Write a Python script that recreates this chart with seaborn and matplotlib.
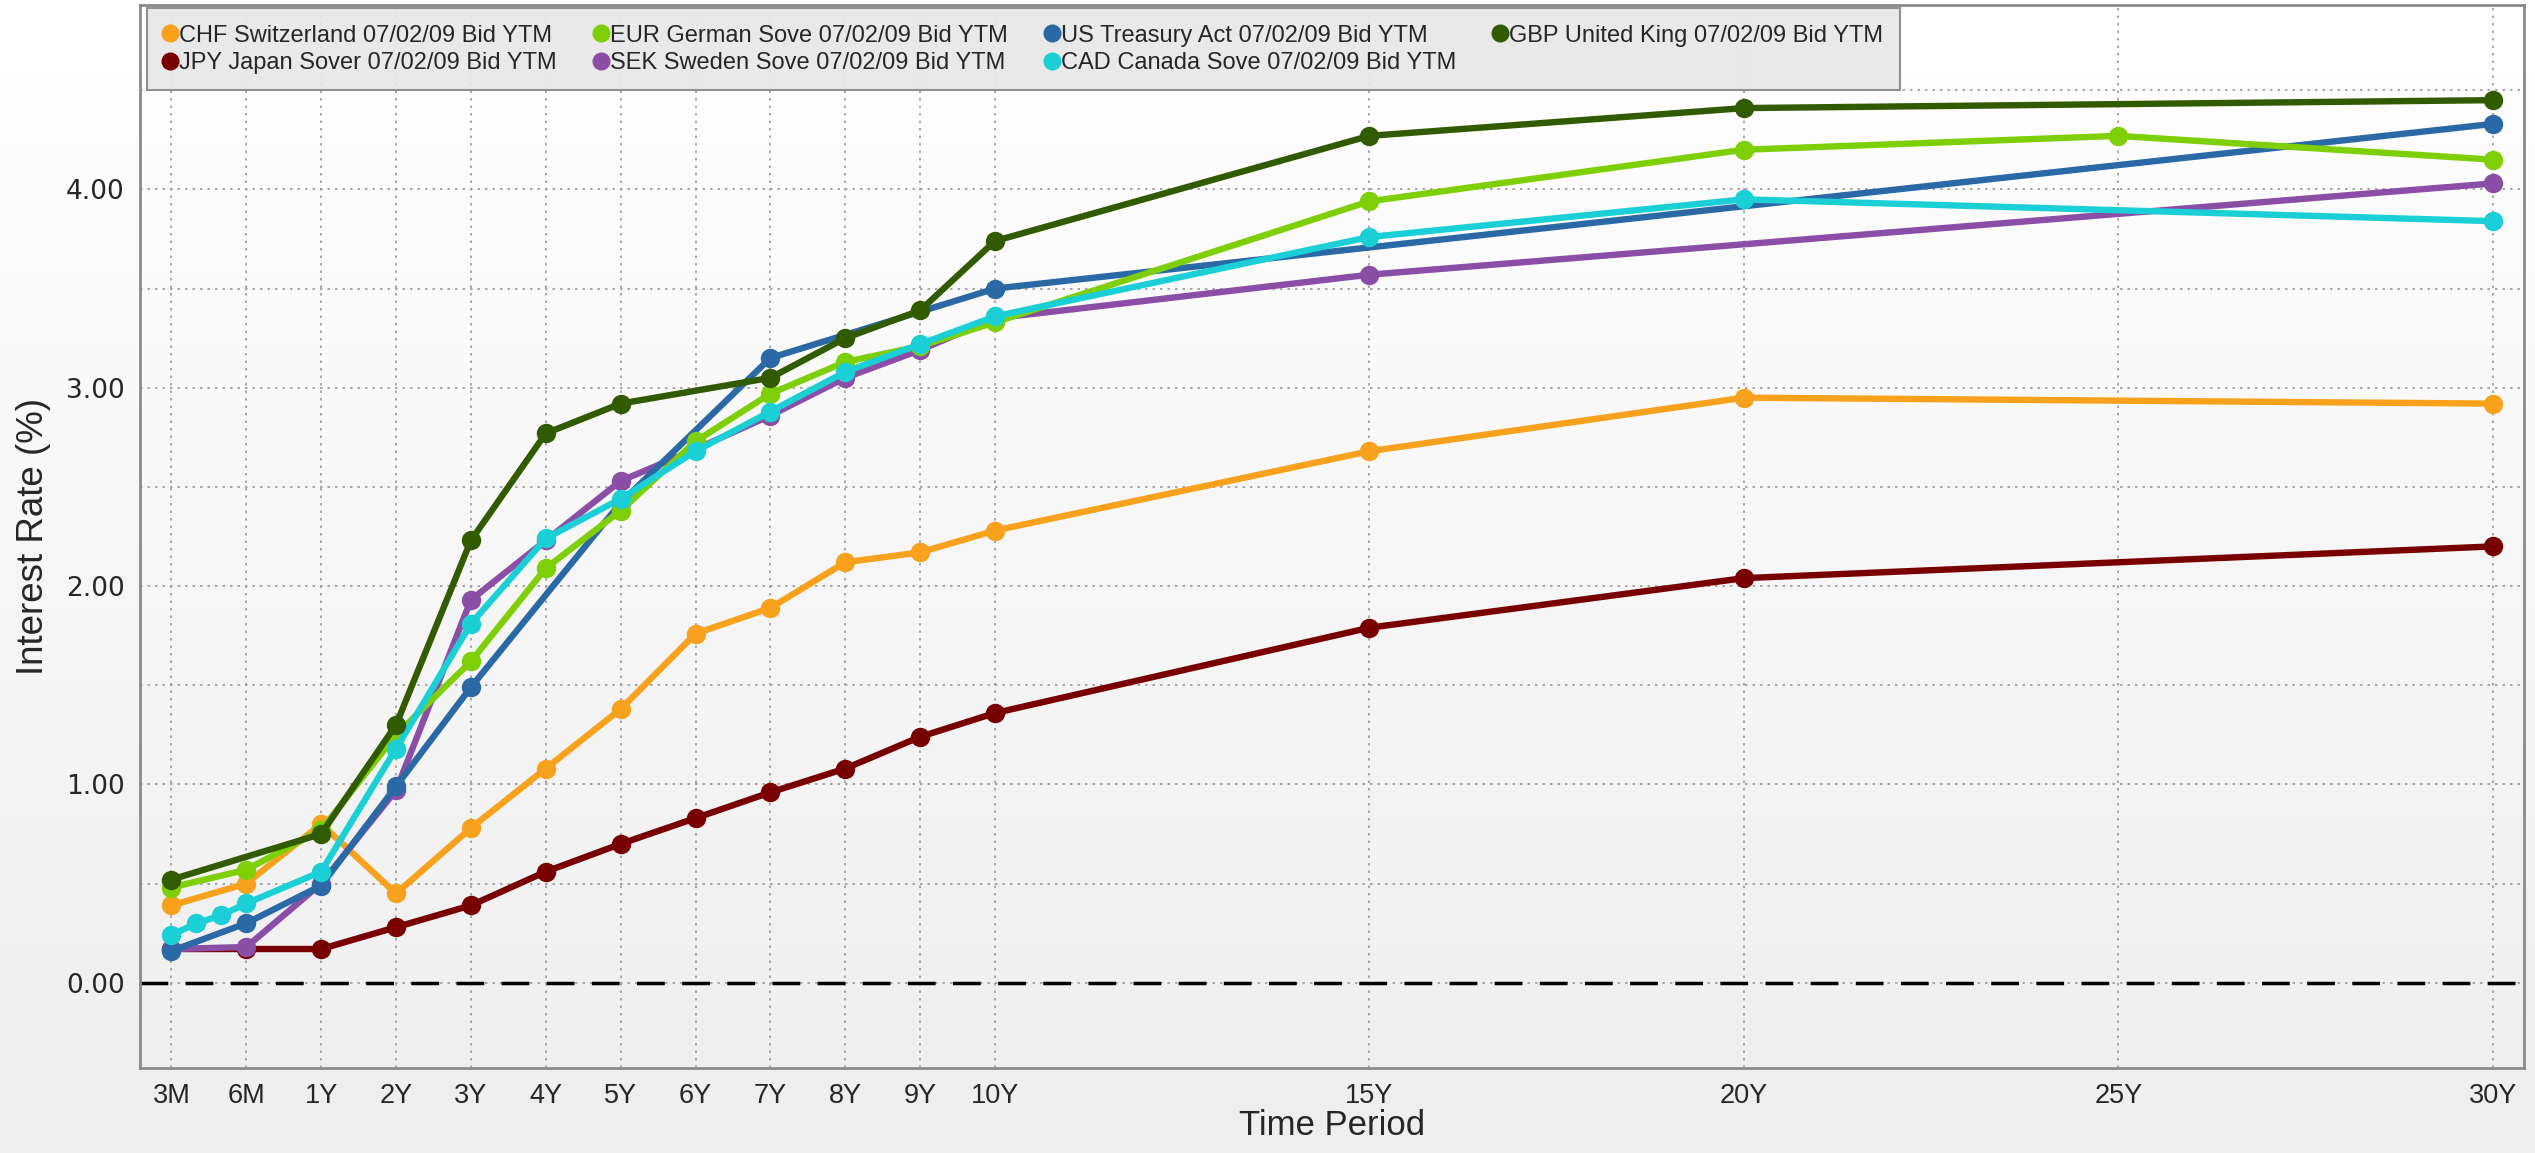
import numpy as np
import matplotlib
matplotlib.use('Agg')
import matplotlib.pyplot as plt
import seaborn as sns

# tenor labels and their position on the maturity axis
tick_labels = ['3M', '6M', '1Y', '2Y', '3Y', '4Y', '5Y', '6Y', '7Y', '8Y', '9Y', '10Y', '15Y', '20Y', '25Y', '30Y']
tenor_pos = {'3M': -1, '4M': -2 / 3, '5M': -1 / 3, '6M': 0}
for t in tick_labels[2:]:
    tenor_pos[t] = int(t[:-1])

# yields (07/02/09 Bid YTM)
chf_tenors = ['3M', '6M', '1Y', '2Y', '3Y', '4Y', '5Y', '6Y', '7Y', '8Y', '9Y', '10Y', '15Y', '20Y', '30Y']
chf_vals = [0.39, 0.50, 0.80, 0.45, 0.78, 1.08, 1.38, 1.76, 1.89, 2.12, 2.17, 2.28, 2.68, 2.95, 2.92]

eur_tenors = ['3M', '6M', '1Y', '2Y', '3Y', '4Y', '5Y', '6Y', '7Y', '8Y', '9Y', '10Y', '15Y', '20Y', '25Y', '30Y']
eur_vals = [0.48, 0.57, 0.77, 1.25, 1.62, 2.09, 2.38, 2.73, 2.97, 3.13, 3.21, 3.33, 3.94, 4.20, 4.27, 4.15]

us_tenors = ['3M', '6M', '1Y', '2Y', '3Y', '5Y', '7Y', '10Y', '30Y']
us_vals = [0.16, 0.30, 0.49, 0.99, 1.49, 2.42, 3.15, 3.50, 4.33]

gbp_tenors = ['3M', '1Y', '2Y', '3Y', '4Y', '5Y', '7Y', '8Y', '9Y', '10Y', '15Y', '20Y', '30Y']
gbp_vals = [0.52, 0.75, 1.30, 2.23, 2.77, 2.92, 3.05, 3.25, 3.39, 3.74, 4.27, 4.41, 4.45]

jpy_tenors = ['3M', '6M', '1Y', '2Y', '3Y', '4Y', '5Y', '6Y', '7Y', '8Y', '9Y', '10Y', '15Y', '20Y', '30Y']
jpy_vals = [0.17, 0.17, 0.17, 0.28, 0.39, 0.56, 0.70, 0.83, 0.96, 1.08, 1.24, 1.36, 1.79, 2.04, 2.20]

sek_tenors = ['3M', '6M', '1Y', '2Y', '3Y', '4Y', '5Y', '6Y', '7Y', '8Y', '9Y', '10Y', '15Y', '30Y']
sek_vals = [0.17, 0.18, 0.50, 0.97, 1.93, 2.23, 2.53, 2.69, 2.86, 3.05, 3.19, 3.35, 3.57, 4.03]

cad_tenors = ['3M', '4M', '5M', '6M', '1Y', '2Y', '3Y', '4Y', '5Y', '6Y', '7Y', '8Y', '9Y', '10Y', '15Y', '20Y', '30Y']
cad_vals = [0.24, 0.30, 0.34, 0.40, 0.56, 1.18, 1.81, 2.24, 2.44, 2.68, 2.88, 3.08, 3.22, 3.36, 3.76, 3.95, 3.84]

series = {
    'CHF Switzerland 07/02/09 Bid YTM': (chf_tenors, chf_vals, '#f7a11c'),
    'JPY Japan Sover 07/02/09 Bid YTM': (jpy_tenors, jpy_vals, '#780000'),
    'EUR German Sove 07/02/09 Bid YTM': (eur_tenors, eur_vals, '#7ecf06'),
    'SEK Sweden Sove 07/02/09 Bid YTM': (sek_tenors, sek_vals, '#8a4ea6'),
    'US Treasury Act 07/02/09 Bid YTM': (us_tenors, us_vals, '#2a68a6'),
    'CAD Canada Sove 07/02/09 Bid YTM': (cad_tenors, cad_vals, '#1ad0d6'),
    'GBP United King 07/02/09 Bid YTM': (gbp_tenors, gbp_vals, '#325a00'),
}
# drawing order, bottom to top
draw_order = ['JPY', 'CHF', 'SEK', 'US', 'EUR', 'CAD', 'GBP']

sns.set_style('white')
plt.rcParams['font.family'] = ['DejaVu Sans']
label_font = ['Liberation Sans', 'DejaVu Sans']

fig = plt.figure(figsize=(25.35, 11.53), dpi=100)

# soft background gradient behind everything
bg = fig.add_axes([0, 0, 1, 1], zorder=-10)
grad = np.linspace(0, 1, 256).reshape(-1, 1)
bg.imshow(grad, aspect='auto', cmap=matplotlib.colors.LinearSegmentedColormap.from_list('g', ['#ffffff', '#eeeeee']),
          extent=(0, 1, 0, 1), origin='upper')
bg.axis('off')

ax = fig.add_axes([0.0552, 0.0737, 0.9405, 0.922])
ax.set_facecolor('none')

for key in draw_order:
    for name, (tenors, vals, color) in series.items():
        if name.startswith(key + ' '):
            xs = [tenor_pos[t] for t in tenors]
            sns.lineplot(x=xs, y=vals, ax=ax, color=color, marker='o', markersize=14,
                         markeredgecolor=color, markeredgewidth=0, linewidth=4.6, label=name)

ax.axhline(0, color='black', linewidth=2.5, dashes=(8, 5), zorder=1)

ax.set_xlim(-1.42, 30.42)
ax.set_ylim(-0.43, 4.93)
ax.set_xticks([tenor_pos[t] for t in tick_labels])
ax.set_xticklabels(tick_labels, family=label_font, fontsize=19.5)
ax.set_yticks([0, 1, 2, 3, 4])
ax.set_yticklabels(['0.00', '1.00', '2.00', '3.00', '4.00'], fontsize=19)
ax.set_yticks(np.arange(0.5, 4.6, 1.0), minor=True)
ax.grid(True, which='major', axis='both', linestyle=(0, (1.5, 3)), color='#999999', linewidth=1.2)
ax.grid(True, which='minor', axis='y', linestyle=(0, (1.5, 3)), color='#999999', linewidth=1.2)
ax.tick_params(axis='y', which='both', direction='out', length=7, width=1.2, color='#444444', pad=4)
ax.tick_params(axis='x', which='major', direction='out', length=7, width=1.2, color='#444444', pad=4)
for s in ax.spines.values():
    s.set_color('#8a8a8a')
    s.set_linewidth(2)

ax.set_xlabel('Time Period', family=label_font, fontsize=25, labelpad=0)
ax.set_ylabel('Interest Rate (%)', family=label_font, fontsize=26.5)
ax.yaxis.set_label_coords(-0.0373, 0.5)

# legend: rows CHF/EUR/US/GBP and JPY/SEK/CAD
leg_order = list(series.keys())
leg_handles = []
for name in leg_order:
    h = matplotlib.lines.Line2D([], [], linestyle='none', marker='o', markersize=13,
                                markerfacecolor=series[name][2], markeredgewidth=0)
    leg_handles.append(h)
leg = ax.legend(leg_handles, leg_order, loc='upper left', bbox_to_anchor=(0.003, 0.997), ncol=4,
                prop={'family': label_font, 'size': 17}, frameon=True, fancybox=False,
                handlelength=0.55, handletextpad=0.1, columnspacing=1.6, labelspacing=0.22,
                borderpad=0.7, borderaxespad=0)
leg.get_frame().set_facecolor('#e8e8e8')
leg.get_frame().set_edgecolor('#888888')
leg.get_frame().set_linewidth(1.5)
leg.get_frame().set_alpha(0.92)

fig.savefig('out.png', dpi=100)
